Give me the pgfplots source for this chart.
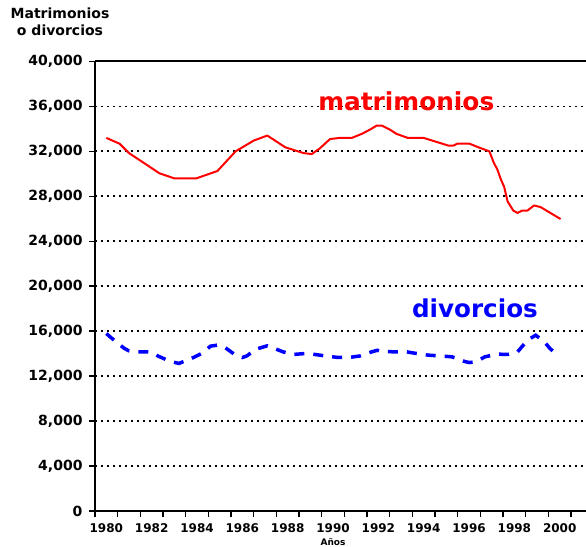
\documentclass[border=0pt]{standalone}
\usepackage{fontspec}
\setmainfont{DejaVu Sans}
\usepackage{pgfplots}
\pgfplotsset{compat=1.18}
\begin{document}
\begin{tikzpicture}
\begin{axis}[
  scale only axis,
  width=491bp, height=449.5bp,
  xmin=1979.5, xmax=2001.16,
  ymin=0, ymax=40000,
  axis x line*=box, axis y line*=left,
  axis line style={black, line width=2bp},
  xtick={1979.5,1980.5,...,2000.5},
  xticklabels={1980,,1982,,1984,,1986,,1988,,1990,,1992,,1994,,1996,,1998,,2000,},
  major tick length=6bp,
  ytick={0,4000,...,40000},
  scaled y ticks=false,
  tick align=outside,
  xtick pos=bottom, ytick pos=left,
  tick style={black, line width=1.5bp},
  ymajorgrids,
  major grid style={black, line width=1.8bp, dash pattern=on 1.8bp off 4.2bp},
  /pgf/number format/.cd, fixed, 1000 sep={,}, assume math mode=true,
  /pgfplots/.cd,
  yticklabel style={font=\fontsize{14bp}{16bp}\selectfont\bfseries, xshift=-3bp},
  xticklabel style={font=\fontsize{12bp}{14bp}\selectfont\bfseries, yshift=-3bp, xshift=11.33bp},
  clip=false,
]
\addplot[red, line width=2bp, line join=round] coordinates {
(1980,33200) (1980.58,32690) (1981.0,31850) (1982.35,30045) (1983.0,29600)
(1983.97,29600) (1984.9,30255) (1985.7,32000) (1986.5,32960) (1987.1,33410)
(1987.9,32360) (1988.7,31850) (1989.06,31760) (1989.4,32240) (1989.87,33100)
(1990.3,33200) (1990.83,33200) (1991.27,33560) (1991.64,33950) (1991.93,34300)
(1992.15,34300) (1992.5,33950) (1992.8,33560) (1993.3,33200) (1994.0,33200)
(1995.1,32510) (1995.3,32510) (1995.5,32700) (1996.0,32700) (1996.5,32300)
(1996.9,32000) (1997.1,30950) (1997.24,30440) (1997.4,29530) (1997.55,28840)
(1997.7,27550) (1997.95,26740) (1998.14,26520) (1998.35,26740) (1998.58,26740)
(1998.87,27190) (1999.16,27040) (2000.04,25980)
};
\addplot[blue, line width=3.5bp, dash pattern=on 10bp off 9bp] coordinates {
(1980,15790) (1980.2,15440) (1980.65,14700) (1980.8,14460) (1981,14250)
(1981.24,14160) (1981.8,14160) (1982.05,14100) (1982.27,13800) (1982.8,13330)
(1983.2,13130) (1983.75,13570) (1984.2,14010) (1984.6,14670) (1984.9,14760)
(1985.2,14600) (1985.66,13930) (1986.0,13660) (1986.2,13800) (1986.6,14400)
(1987.1,14700) (1987.3,14550) (1987.8,14160) (1988.24,13930) (1988.76,14010)
(1989.2,13930) (1989.72,13780) (1990.24,13660) (1990.7,13660) (1991.2,13800)
(1991.7,14160) (1991.95,14300) (1992.1,14220) (1992.7,14160) (1993.26,14160)
(1993.7,14010) (1994.2,13870) (1994.7,13800) (1995.25,13720) (1995.77,13330)
(1996.0,13210) (1996.3,13270) (1996.7,13720) (1997.24,13960) (1997.7,13930)
(1998.14,14160) (1998.54,15110) (1998.7,15350) (1998.94,15640) (1999.3,15110)
(1999.57,14460) (1999.78,14100)
};
\node[anchor=base west, red, inner sep=0pt, font=\fontsize{24.8bp}{28bp}\selectfont\bfseries]
  at (axis cs:1989.34,35622) {matrimonios};
\node[anchor=base west, blue, inner sep=0pt, font=\fontsize{24.6bp}{28bp}\selectfont\bfseries]
  at (axis cs:1993.48,17175) {divorcios};
\node[anchor=north, inner sep=0pt, align=center, font=\fontsize{14bp}{17bp}\selectfont\bfseries]
  at ([xshift=-35bp,yshift=53.5bp]rel axis cs:0,1) {Matrimonios\\o divorcios};
\node[anchor=base, inner sep=0pt, font=\fontsize{9bp}{10bp}\selectfont\bfseries]
  at ([yshift=-34.5bp]axis cs:1990,0) {Años};
\end{axis}
\pgfresetboundingbox
\path[use as bounding box] (-95bp,-36bp) rectangle (491bp,511bp);
\end{tikzpicture}
\end{document}
